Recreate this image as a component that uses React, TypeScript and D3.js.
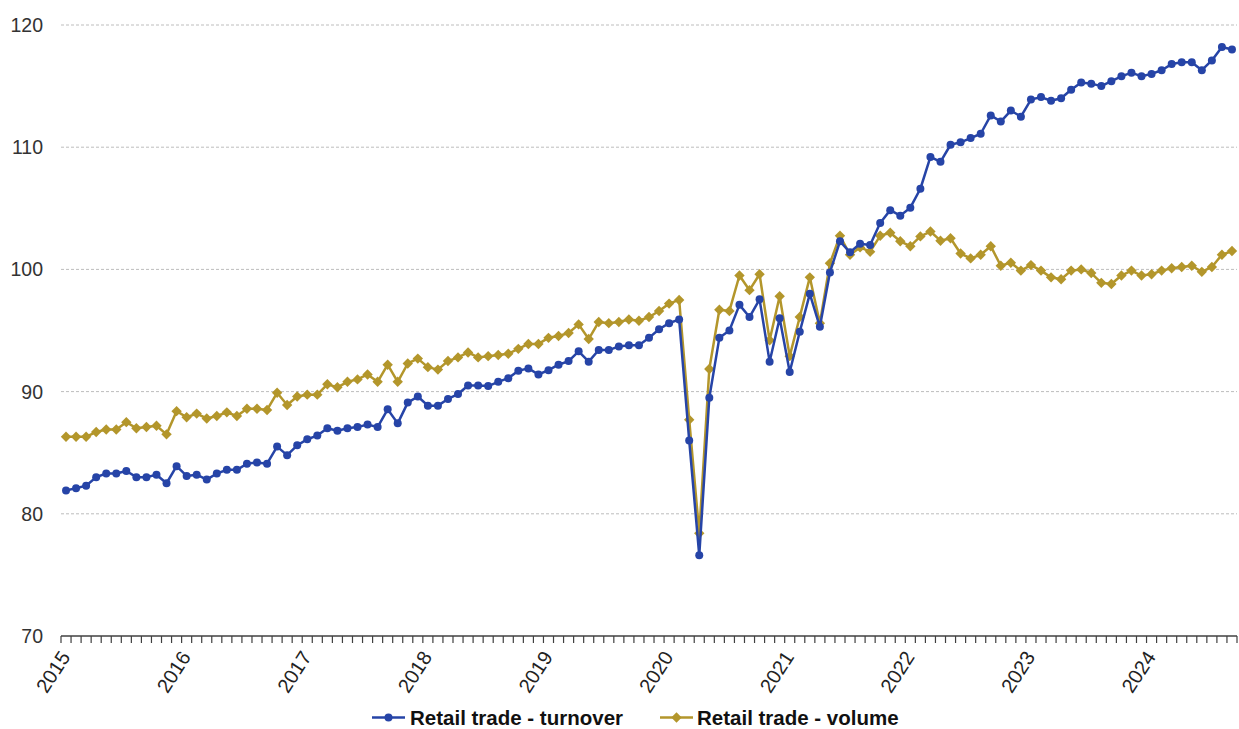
import React from 'react';
import * as d3 from 'd3';

const yearLabels = ['2015', '2016', '2017', '2018', '2019', '2020', '2021', '2022', '2023', '2024'];
const yTicks = [70, 80, 90, 100, 110, 120];
const seriesNames = ['Retail trade - turnover', 'Retail trade - volume'];

// Monthly index values, Jan 2015 - Sep 2024
const turnover = [
  81.9, 82.1, 82.3, 83.0, 83.3, 83.3, 83.5, 83.0, 83.0, 83.2, 82.5, 83.9,
  83.1, 83.2, 82.8, 83.3, 83.6, 83.6, 84.1, 84.2, 84.1, 85.5, 84.8, 85.6,
  86.1, 86.4, 87.0, 86.8, 87.0, 87.1, 87.3, 87.1, 88.55, 87.4, 89.1, 89.6,
  88.85, 88.85, 89.4, 89.8, 90.5, 90.5, 90.45, 90.8, 91.1, 91.7, 91.9, 91.4,
  91.75, 92.2, 92.5, 93.3, 92.45, 93.4, 93.4, 93.7, 93.8, 93.8, 94.4, 95.1,
  95.6, 95.9, 86.0, 76.6, 89.5, 94.4, 95.0, 97.1, 96.1, 97.55, 92.45, 96.0,
  91.6, 94.9, 98.0, 95.3, 99.75, 102.3, 101.4, 102.1, 102.0, 103.8, 104.85, 104.4,
  105.05, 106.6, 109.2, 108.8, 110.2, 110.4, 110.75, 111.1, 112.6, 112.1, 113.0, 112.5,
  113.9, 114.1, 113.8, 114.0, 114.7, 115.3, 115.2, 115.0, 115.4, 115.8, 116.1, 115.8,
  116.0, 116.3, 116.8, 116.95, 116.95, 116.3, 117.1, 118.2, 118.0,
];

const volume = [
  86.3, 86.3, 86.3, 86.7, 86.9, 86.9, 87.5, 87.0, 87.1, 87.2, 86.5, 88.4,
  87.9, 88.2, 87.8, 88.0, 88.3, 88.0, 88.6, 88.6, 88.5, 89.9, 88.9, 89.6,
  89.75, 89.75, 90.6, 90.35, 90.8, 91.0, 91.4, 90.8, 92.2, 90.8, 92.3, 92.7,
  92.0, 91.8, 92.5, 92.8, 93.2, 92.8, 92.9, 93.0, 93.1, 93.5, 93.9, 93.9,
  94.4, 94.55, 94.8, 95.5, 94.3, 95.7, 95.6, 95.7, 95.9, 95.8, 96.1, 96.6,
  97.2, 97.5, 87.7, 78.4, 91.85, 96.7, 96.6, 99.5, 98.3, 99.6, 94.2, 97.8,
  92.9, 96.1, 99.35, 95.6, 100.5, 102.75, 101.2, 101.8, 101.45, 102.75, 103.0, 102.3,
  101.9, 102.7, 103.1, 102.35, 102.55, 101.3, 100.9, 101.2, 101.9, 100.3, 100.55, 99.9,
  100.35, 99.9, 99.35, 99.2, 99.9, 100.0, 99.7, 98.9, 98.8, 99.5, 99.9, 99.5,
  99.6, 99.9, 100.1, 100.2, 100.3, 99.8, 100.2, 101.2, 101.5,
];

const BLUE = '#2644A7';
const GOLD = '#B3962B';
const FONT = '"Liberation Sans", Arial, sans-serif';

export default function App() {
  const W = 1239;
  const H = 729;
  const left = 61;
  const right = 1237;
  const top = 25;
  const bottom = 636;
  const n = turnover.length;

  const x = d3.scaleBand<number>().domain(d3.range(n)).range([left, right]).paddingInner(0).paddingOuter(0);
  const cx = (i: number) => (x(i) as number) + x.bandwidth() / 2;
  const y = d3.scaleLinear().domain([70, 120]).range([bottom, top]);

  const line = d3.line<number>().x((_, i) => cx(i)).y((d) => y(d));
  const step = x.step();
  const boundaries = d3.range(n + 1).map((i) => left + i * step);

  const diamond = (px: number, py: number, r: number) =>
    `M${px},${py - r}L${px + r},${py}L${px},${py + r}L${px - r},${py}Z`;

  return (
    <svg width={W} height={H} style={{ position: 'absolute', left: 0, top: 0, background: '#fff' }} fontFamily={FONT}>
      {/* gridlines */}
      {yTicks.filter((t) => t !== 70).map((t) => (
        <line key={t} x1={left} x2={right} y1={y(t)} y2={y(t)} stroke="#bdbdbd" strokeWidth={1} strokeDasharray="3,2" />
      ))}
      {/* y labels */}
      {yTicks.map((t) => (
        <text key={t} x={43} y={y(t)} dy="0.36em" textAnchor="end" fontSize={19.5} fill="#333">
          {t}
        </text>
      ))}
      {/* x axis */}
      <line x1={left} x2={right} y1={bottom} y2={bottom} stroke="#404040" strokeWidth={1.5} />
      {boundaries.map((bx, i) => (
        <line key={i} x1={bx} x2={bx} y1={bottom} y2={bottom + 7} stroke="#404040" strokeWidth={1.2} />
      ))}
      {yearLabels.map((lab, k) => {
        const bx = left + k * 12 * step;
        return (
          <text key={lab} transform={`translate(${bx + 10},${bottom + 21}) rotate(-57)`} textAnchor="end" fontSize={20} fill="#222">
            {lab}
          </text>
        );
      })}
      {/* series */}
      <path d={line(volume) || ''} fill="none" stroke={GOLD} strokeWidth={2.5} strokeLinejoin="round" />
      {volume.map((v, i) => (
        <path key={i} d={diamond(cx(i), y(v), 5.2)} fill={GOLD} />
      ))}
      <path d={line(turnover) || ''} fill="none" stroke={BLUE} strokeWidth={2.5} strokeLinejoin="round" />
      {turnover.map((v, i) => (
        <circle key={i} cx={cx(i)} cy={y(v)} r={4} fill={BLUE} />
      ))}
      {/* legend */}
      <g>
        <line x1={372} x2={405} y1={717.5} y2={717.5} stroke={BLUE} strokeWidth={2.5} />
        <circle cx={388.5} cy={717.5} r={4} fill={BLUE} />
        <text x={410} y={725} fontSize={20.5} fontWeight="bold" fill="#111">{seriesNames[0]}</text>
        <line x1={660} x2={693} y1={717.5} y2={717.5} stroke={GOLD} strokeWidth={2.5} />
        <path d={diamond(676.5, 717.5, 5.2)} fill={GOLD} />
        <text x={697} y={725} fontSize={20.5} fontWeight="bold" fill="#111">{seriesNames[1]}</text>
      </g>
    </svg>
  );
}
